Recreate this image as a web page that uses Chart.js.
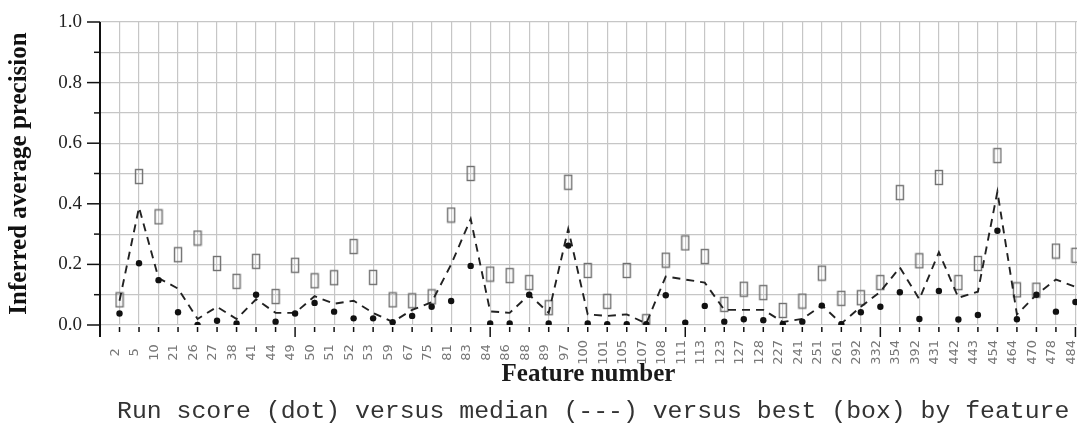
<!DOCTYPE html>
<html>
<head>
<meta charset="utf-8">
<script src="https://cdn.jsdelivr.net/npm/chart.js@4/dist/chart.umd.min.js"></script>
<style>
  html, body { margin: 0; padding: 0; background: #fff; overflow: hidden; }
  #wrap { position: relative; width: 1085px; height: 423px; }
  #caption { position: absolute; left: 117px; top: 399px; font-family: "Liberation Mono", monospace; font-size: 24.8px; line-height: 25px; color: #333; white-space: pre; }
</style>
</head>
<body>
<div id="wrap">
  <canvas id="c" width="1085" height="423"></canvas>
  <div id="caption">Run score (dot) versus median (---) versus best (box) by feature</div>
</div>
<script>
const features = ["2","5","10","21","26","27","38","41","44","49","50","51","52","53","59","67","75","81","83","84","86","88","89","97","100","101","105","107","108","111","113","123","127","128","227","241","251","261","292","332","354","392","431","442","443","454","464","470","478","484"];

const runScore = [0.038,0.204,0.148,0.042,0.0,0.014,0.005,0.1,0.011,0.038,0.073,0.044,0.022,0.022,0.009,0.03,0.06,0.079,0.195,0.005,0.005,0.1,0.005,0.262,0.005,0.003,0.003,0.003,0.098,0.008,0.063,0.011,0.019,0.016,0.003,0.011,0.064,0.003,0.042,0.06,0.108,0.02,0.112,0.018,0.033,0.311,0.019,0.1,0.044,0.076];

const medianScore = [0.08,0.388,0.155,0.12,0.02,0.06,0.02,0.085,0.04,0.04,0.095,0.07,0.08,0.04,0.01,0.05,0.075,0.2,0.35,0.045,0.04,0.1,0.04,0.317,0.035,0.03,0.035,0.005,0.16,0.15,0.14,0.05,0.05,0.05,0.01,0.02,0.065,0.005,0.06,0.11,0.19,0.085,0.24,0.09,0.11,0.44,0.035,0.1,0.15,0.126];

const bestScore = [0.083,0.49,0.357,0.232,0.287,0.203,0.144,0.21,0.094,0.197,0.146,0.156,0.259,0.157,0.083,0.08,0.093,0.363,0.5,0.168,0.163,0.14,0.057,0.471,0.18,0.078,0.18,0.011,0.214,0.271,0.226,0.068,0.118,0.107,0.048,0.079,0.171,0.088,0.09,0.14,0.437,0.212,0.487,0.14,0.203,0.559,0.116,0.115,0.244,0.23];

const yTickValues = [0.0,0.2,0.4,0.6,0.8,1.0];

const toPoints = arr => arr.map((v, i) => ({x: i + 1, y: v}));

// hollow rectangular marker for the "best" boxes
const boxImg = document.createElement('canvas');
boxImg.width = 10; boxImg.height = 17;
(function(){
  const g = boxImg.getContext('2d');
  g.strokeStyle = '#707070';
  g.lineWidth = 1.4;
  g.strokeRect(1.5, 1.5, 7, 14);
})();

const axisMarks = {
  id: 'axisMarks',
  afterDraw(chart) {
    const {ctx, chartArea, scales: {x, y}} = chart;
    ctx.save();
    ctx.strokeStyle = '#111';
    ctx.lineWidth = 2;
    ctx.beginPath();
    ctx.moveTo(chartArea.left, chartArea.top);
    ctx.lineTo(chartArea.left, chartArea.bottom + 12);
    ctx.stroke();
    ctx.lineWidth = 1.5;
    y.ticks.forEach(t => {
      const py = y.getPixelForValue(t.value);
      const major = Math.round(t.value * 10) % 2 === 0;
      ctx.beginPath();
      ctx.moveTo(chartArea.left - (major ? 13 : 6), py);
      ctx.lineTo(chartArea.left, py);
      ctx.stroke();
    });
    x.ticks.forEach(t => {
      if (t.value < 1 || t.value > features.length) return;
      const px = x.getPixelForValue(t.value);
      const major = t.value % 10 === 0;
      ctx.beginPath();
      ctx.moveTo(px, chartArea.bottom + 2);
      ctx.lineTo(px, chartArea.bottom + (major ? 12 : 7));
      ctx.stroke();
    });
    ctx.restore();
  }
};

new Chart(document.getElementById('c'), {
  type: 'scatter',
  data: {
    datasets: [
      {
        label: 'Run score',
        data: toPoints(runScore),
        showLine: false,
        pointStyle: 'circle',
        pointRadius: 3.2,
        pointBackgroundColor: '#111',
        pointBorderColor: '#111',
        pointBorderWidth: 0,
        order: 1
      },
      {
        label: 'Median',
        data: toPoints(medianScore),
        showLine: true,
        borderColor: '#222',
        borderWidth: 1.9,
        borderDash: [8, 6],
        pointRadius: 0,
        tension: 0,
        order: 2
      },
      {
        label: 'Best',
        data: toPoints(bestScore),
        showLine: false,
        pointStyle: boxImg,
        pointRadius: 7,
        order: 3
      }
    ]
  },
  options: {
    responsive: false,
    animation: false,
    events: [],
    layout: { padding: { top: 22, right: 0, bottom: 32, left: 0 } },
    plugins: { legend: { display: false }, tooltip: { enabled: false } },
    scales: {
      x: {
        type: 'linear',
        min: 0,
        max: 50.08,
        border: { display: false },
        grid: { color: '#c6c6c6', lineWidth: 1.2, drawTicks: true, tickLength: 8, tickColor: 'transparent' },
        ticks: {
          stepSize: 1,
          includeBounds: false,
          autoSkip: false,
          maxRotation: 90,
          minRotation: 90,
          padding: 7,
          labelOffset: -4,
          color: '#777',
          font: { family: 'DejaVu Sans', size: 13 },
          callback: (v) => {
            const i = Math.round(v) - 1;
            if (Math.abs(v - Math.round(v)) > 1e-6 || i < 0 || i >= features.length) return '';
            const s = features[i];
            return s + (s.length === 1 ? '  ' : s.length === 2 ? ' ' : '');
          }
        },
        title: {
          display: true,
          text: 'Feature number',
          color: '#1a1a1a',
          font: { family: 'Liberation Serif', size: 25, weight: 'bold' },
          padding: { top: 0, bottom: 1 }
        },
        afterFit: (s) => { s.height = 66; s.paddingLeft = 0; s.paddingRight = 0; }
      },
      y: {
        min: 0,
        max: 1,
        border: { display: false },
        grid: { color: '#c6c6c6', lineWidth: 1.2, drawTicks: true, tickLength: 10, tickColor: 'transparent' },
        ticks: {
          stepSize: 0.1,
          padding: 8,
          color: '#222',
          font: { family: 'Liberation Serif', size: 19 },
          callback: (v) => {
            const r = Math.round(v * 10) / 10;
            return yTickValues.some(t => Math.abs(t - r) < 1e-6) ? r.toFixed(1) : '';
          }
        },
        title: {
          display: true,
          text: 'Inferred average precision',
          color: '#111',
          font: { family: 'Liberation Serif', size: 25, weight: 'bold' },
          padding: { top: 5, bottom: 0 }
        },
        afterFit: (s) => { s.width = 100; }
      }
    }
  },
  plugins: [axisMarks]
});
</script>
</body>
</html>
